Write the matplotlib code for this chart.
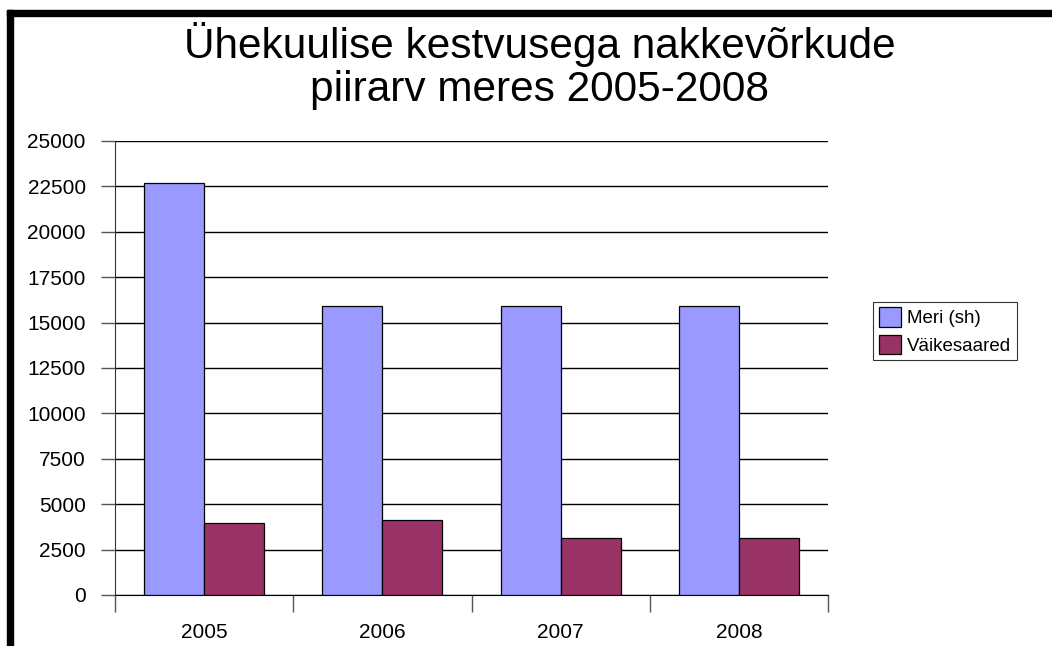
import matplotlib
matplotlib.use("Agg")
import matplotlib.pyplot as plt
from matplotlib.patches import Rectangle
import numpy as np

plt.rcParams['font.family'] = ['Liberation Sans', 'DejaVu Sans']

years = ['2005', '2006', '2007', '2008']
meri = [22700, 15900, 15900, 15900]
vaikesaared = [3960, 4150, 3150, 3150]
series_names = ['Meri (sh)', 'Väikesaared']
title = 'Ühekuulise kestvusega nakkevõrkude\npiirarv meres 2005-2008'
yticks = [0, 2500, 5000, 7500, 10000, 12500, 15000, 17500, 20000, 22500, 25000]

W, H = 1052, 646
fig = plt.figure(figsize=(W / 100, H / 100), dpi=100)
ax = fig.add_axes([115 / W, 1 - 595 / H, (828 - 115) / W, (595 - 141) / H])

x = np.arange(len(years))
bw = 60 / 178
ax.bar(x - bw / 2, meri, bw, color='#9999FF', edgecolor='black', linewidth=0.9,
       label=series_names[0], zorder=3)
ax.bar(x + bw / 2, vaikesaared, bw, color='#993366', edgecolor='black', linewidth=0.9,
       label=series_names[1], zorder=3)

ax.set_xlim(-0.5, len(years) - 0.5)
ax.set_ylim(0, 25000)
ax.set_yticks(yticks)
ax.set_yticklabels([str(v) for v in yticks])
ax.yaxis.grid(True, color='black', linewidth=1.0, zorder=0)
ax.set_axisbelow(True)

ax.set_xticks(np.arange(len(years) + 1) - 0.5)
ax.set_xticklabels([])
ax.set_xticks(x, minor=True)
ax.set_xticklabels(years, minor=True)
ax.tick_params(axis='x', which='major', length=12, width=1, color='#555555')
ax.tick_params(axis='x', which='minor', length=0, pad=20, labelsize=15)
ax.tick_params(axis='y', length=10, width=1, color='#555555', pad=11, labelsize=15)

for s in ['top', 'right']:
    ax.spines[s].set_visible(False)
ax.spines['left'].set_color('#333333')
ax.spines['bottom'].set_color('black')

leg = fig.legend(loc='center', bbox_to_anchor=(945 / W, 1 - 331 / H), fontsize=13.5,
                 frameon=True, fancybox=False, edgecolor='black', handlelength=1.2,
                 handleheight=1.2, handletextpad=0.3, borderpad=0.3, labelspacing=0.4,
                 borderaxespad=0)
leg.get_frame().set_linewidth(0.8)

fig.text(540 / W, 1 - 66 / H, title, ha='center', va='center', fontsize=30.5,
         linespacing=1.1)

fig.patches.append(Rectangle((7 / W, 0), 6 / W, 1 - 10 / H, transform=fig.transFigure,
                             color='black', zorder=10))
fig.patches.append(Rectangle((7 / W, 1 - 16 / H), 1 - 7 / W, 6 / H, transform=fig.transFigure,
                             color='black', zorder=10))

fig.savefig('out.png', dpi=100)
